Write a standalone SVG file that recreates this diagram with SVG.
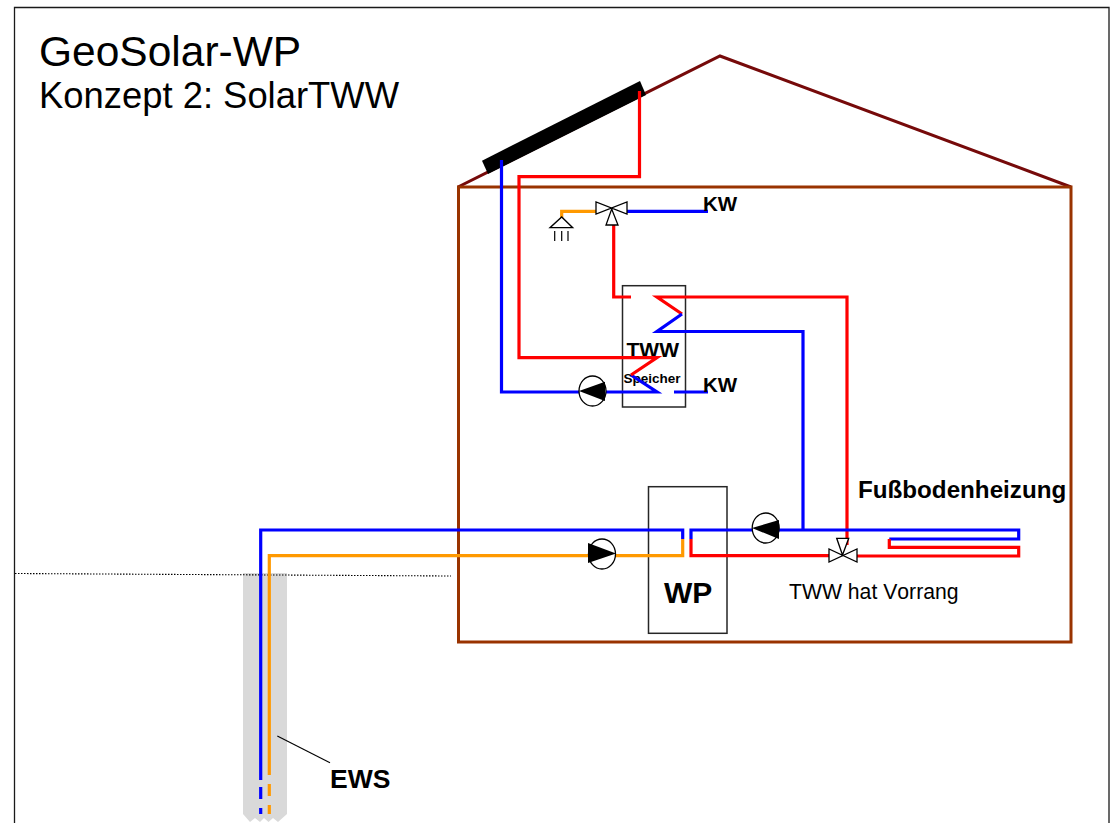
<svg xmlns="http://www.w3.org/2000/svg" width="1110" height="823" viewBox="0 0 1110 823">
<defs>
<style>
text{font-family:"Liberation Sans",Arial,sans-serif;fill:#000;font-kerning:none}
.b{font-weight:bold}
.p{fill:none;stroke-width:3.2;stroke-linejoin:miter}
.blue{stroke:#0000ff}.red{stroke:#ff0000}.or{stroke:#ff9900}
.sym{fill:#fff;stroke:#000;stroke-width:1.3}
.tank{fill:none;stroke:#262626;stroke-width:1.5}
.head{fill:#000;stroke:none}
</style>
<g id="pumpBody"><ellipse cx="0" cy="0" rx="13.5" ry="15" fill="#fff" stroke="#000" stroke-width="1.3"/></g>
</defs>
<rect width="1110" height="823" fill="#fff"/>
<path id="frame" d="M14.500 823V7.500H1109V823" fill="none" stroke="#1a1a1a" stroke-width="1.300"/>

<g id="ground-probe">
<path d="M243 573H287V814L278 822L273 818L268.500 822L264 818L260 822L255 818L250 822L243 814Z" fill="#d9d9d9"/>
<path d="M15 573.500L451 576" fill="none" stroke="#000" stroke-width="1.100" stroke-dasharray="1.500 1.500"/>
</g>

<g id="house">
<path d="M458 187L720 56L1071 187" fill="none" stroke="#760a0a" stroke-width="3"/>
<rect x="458.500" y="187" width="612.500" height="455" fill="none" stroke="#993300" stroke-width="3"/>
</g>

<g id="collector"><polygon points="482,160.700 640,81 646,95 488,174" fill="#000"/></g>

<g id="speicher"><rect class="tank" x="622.500" y="285.700" width="63" height="121.300"/>
<text class="b" x="626.500" y="356.700" font-size="21">TWW</text>
<text class="b" x="623.500" y="383" font-size="13.500">Speicher</text></g>
<g id="wp"><rect class="tank" x="648.500" y="486.700" width="78.500" height="146.600"/>
<text class="b" x="664" y="602.700" font-size="30">WP</text></g>

<g id="connectors">
<path class="p blue" d="M501.500 160V392H657L631 375"/>
<path class="p red" d="M639.500 91V176.700H519V357.700H657L631 375"/>
<path class="p blue" d="M674 392H708"/>
<path class="p red" d="M613.700 225V297H631"/>
<path class="p red" d="M847 545V297H657L682 314"/>
<path class="p blue" d="M682 314L657 331.500H803V530"/>
<path class="p blue" d="M627 211.300H708"/>
<path class="p or" d="M596 211.300H561.700V219"/>
<path class="p blue" d="M260.700 780V530H682.700V539"/>
<path class="p or" d="M269.300 775V555.700H682.700V539"/>
<path class="p blue" d="M260.700 787V799M260.700 808V814"/>
<path class="p or" d="M269.300 784V796M269.300 805V814"/>
<path class="p red" d="M691 539V555.700H830"/>
<path class="p blue" d="M691 539V530H1018.700V539H889.300"/>
<path class="p red" d="M889.300 539V547.300H1018.700V556H857"/>
<path d="M277.300 736L330 762.700" fill="none" stroke="#000" stroke-width="1.100"/>
</g>

<g id="valve-shower">
<path class="sym" d="M596 202V214L627 202V214ZM606 225H618L611.700 209Z" />
</g>
<g id="shower">
<path class="sym" d="M550 227.700H572.700L561.700 217Z" fill="none"/>
<path d="M554.700 231V241M561.700 231V241M568 231V241" fill="none" stroke="#000" stroke-width="1.200"/>
</g>
<g id="valve-floor">
<path class="sym" d="M829 549V562L857 549V562ZM836.700 538.300H848.700L842.500 555Z"/>
</g>

<g id="pump-solar"><use href="#pumpBody" x="592.500" y="391"/><polygon class="head" points="579,391 605,381.700 605,401"/></g>
<g id="pump-heat"><use href="#pumpBody" x="765.700" y="528"/><polygon class="head" points="752,528 779,520 779,539"/></g>
<g id="pump-ews"><use href="#pumpBody" x="602" y="554"/><polygon class="head" points="616,553.500 588,543 588,563"/></g>

<g id="labels">
<text x="39" y="65.500" font-size="42.500">GeoSolar-WP</text>
<text x="39" y="108" font-size="36.400">Konzept 2: SolarTWW</text>
<text class="b" x="703" y="211" font-size="20.500">KW</text>
<text class="b" x="703" y="391.700" font-size="20.500">KW</text>
<text class="b" x="858" y="498" font-size="24.200">Fußbodenheizung</text>
<text x="789" y="598.500" font-size="21.200">TWW hat Vorrang</text>
<text class="b" x="330" y="788" font-size="26.500">EWS</text>
</g>
</svg>
